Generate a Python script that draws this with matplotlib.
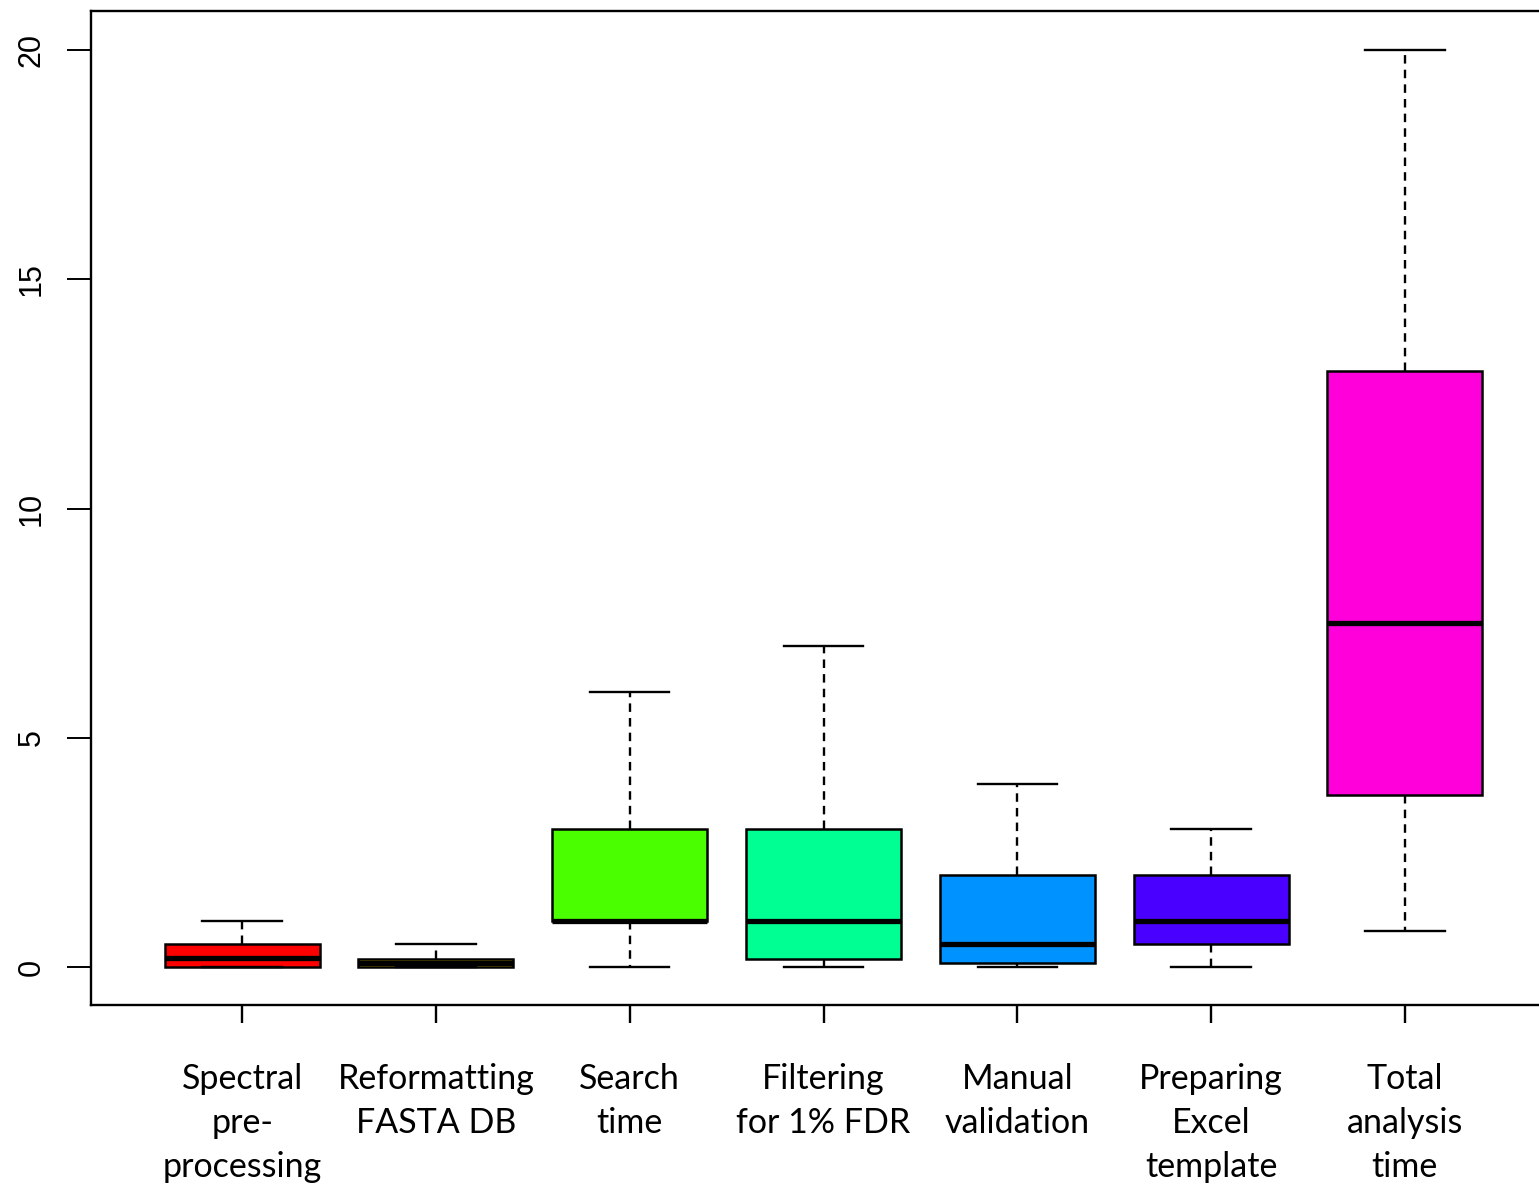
import matplotlib
matplotlib.use("Agg")
import matplotlib.pyplot as plt

# Task-time summaries (hours) per analysis step
categories = [
    "Spectral\npre-\nprocessing",
    "Reformatting\nFASTA DB",
    "Search\ntime",
    "Filtering\nfor 1% FDR",
    "Manual\nvalidation",
    "Preparing\nExcel\ntemplate",
    "Total\nanalysis\ntime",
]
whisker_low = [0.0, 0.0, 0.0, 0.0, 0.0, 0.0, 0.78]
q1 = [0.0, 0.0, 1.0, 0.17, 0.08, 0.5, 3.75]
medians = [0.2, 0.08, 1.0, 1.0, 0.5, 1.0, 7.5]
q3 = [0.5, 0.17, 3.0, 3.0, 2.0, 2.0, 13.0]
whisker_high = [1.0, 0.5, 6.0, 7.0, 4.0, 3.0, 20.0]
colors = ["#FF0000", "#FFDB00", "#49FF00", "#00FF92", "#0092FF", "#4900FF", "#FF00DB"]
y_ticks = [0, 5, 10, 15, 20]

W, H, DPI = 1539, 1187, 100
fig = plt.figure(figsize=(W / DPI, H / DPI), dpi=DPI)
ax = fig.add_axes([91 / W, 1 - 1005 / H, (1556 - 91) / W, (1005 - 11) / H])

stats = []
for lbl, lo, a, m, b, hi in zip(categories, whisker_low, q1, medians, q3, whisker_high):
    stats.append(dict(label=lbl, whislo=lo, q1=a, med=m, q3=b, whishi=hi, fliers=[]))

positions = list(range(1, len(categories) + 1))
bp = ax.bxp(
    stats,
    positions=positions,
    widths=0.8,
    patch_artist=True,
    showfliers=False,
    boxprops=dict(linewidth=1.8, edgecolor="black"),
    medianprops=dict(color="black", linewidth=3.8, solid_capstyle="butt"),
    whiskerprops=dict(color="black", linewidth=1.7, linestyle=(0, (3.6, 2.6))),
    capprops=dict(color="black", linewidth=1.7),
    capwidths=0.41,
)
for patch, c in zip(bp["boxes"], colors):
    patch.set_facecolor(c)
# whiskers sit beneath the boxes, medians on top
for w in bp["whiskers"]:
    w.set_zorder(1)
for p in bp["boxes"]:
    p.set_zorder(2)
for m in bp["medians"]:
    m.set_zorder(3)

ax.set_xlim(0.22, 7.78)
ax.set_ylim(-0.828, 20.85)

ax.set_yticks(y_ticks)
ax.set_yticklabels([str(t) for t in y_ticks], rotation=90, va="center",
                   fontfamily="Liberation Sans", fontsize=22)
ax.tick_params(axis="y", length=17, width=1.4, pad=15)

ax.set_xticks(positions)
ax.set_xticklabels(categories, fontfamily="Lato", fontsize=24.5, linespacing=1.45)
ax.tick_params(axis="x", length=13, width=1.7, pad=29)

for side in ("left", "bottom", "top", "right"):
    ax.spines[side].set_linewidth(1.7)

fig.savefig("out.png", dpi=DPI)
